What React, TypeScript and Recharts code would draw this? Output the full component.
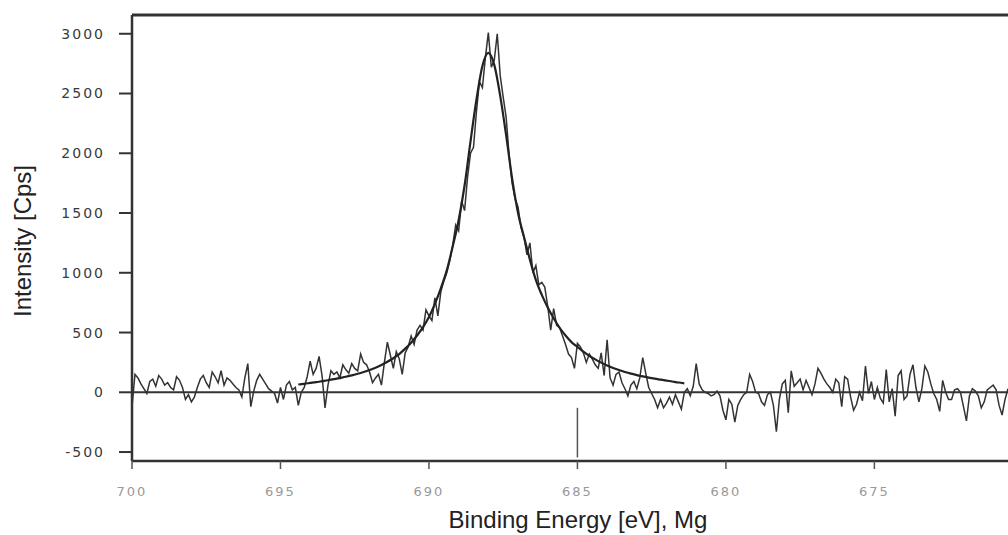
import { LineChart, Line, XAxis, YAxis, ReferenceLine } from 'recharts'

// measured spectrum, 0.1 eV steps from 700 eV downwards
const scanStart = 700
const scanStep = 0.1
const scanCounts = [
  -120, 150, 120, 70, 30, -10, 90, 110, 50, 140,
  110, 60, 80, 40, 20, 130, 100, 40, -60, -20,
  -80, -40, 40, 110, 140, 80, 40, 170, 130, 80,
  180, 60, 120, 100, 70, 40, 20, -40, 120, 240,
  -120, 10, 100, 150, 110, 70, 30, 10, -10, -90,
  40, -60, 60, 90, 20, 40, -110, 0, 40, 130,
  260, 150, 200, 300, 140, -130, 60, 180, 150, 170,
  120, 230, 190, 160, 240, 200, 180, 320, 250, 230,
  170, 80, 120, 150, 60, 250, 420, 310, 200, 340,
  280, 150, 330, 380, 470, 400, 520, 560, 520, 690,
  640, 600, 790, 640, 840, 930, 1000, 1100, 1230, 1400,
  1350, 1600, 1520, 1800, 2000, 2050, 2350, 2600, 2550, 2800,
  3010, 2720, 2780, 3000, 2650, 2470, 2300, 1980, 1750, 1620,
  1550, 1380, 1300, 1150, 1250, 1000, 1060, 900, 920, 880,
  720, 520, 700, 560, 540, 470, 400, 320, 290, 200,
  410, 380, 330, 250, 320, 280, 230, 200, 330, 140,
  440, 120, 60, 150, 170, 80, 30, -30, 60, 90,
  30, 120, 290, 160, 40, -10, -60, -130, -60, -130,
  -90, -40, -100, -20, -80, -140, 0, 30, -30, 50,
  240, 70, 20, 0, -10, -30, -20, 10, -30, -150,
  -230, -60, -100, -250, -110, -60, -20, 0, 150, 90,
  0, -10, -80, -110, -20, 0, -110, -330, -60, 70,
  100, -170, 180, 50, 80, 110, 20, 100, 40, -20,
  70, 200, 160, 110, 70, 40, 0, 110, 80, -120,
  130, 110, -40, -150, -100, 0, -70, 220, -10, 90,
  -60, 40, -50, -90, 190, -80, 30, -200, 140, 180,
  -60, -30, 150, 230, 40, -80, 30, 220, 170, 70,
  -10, -60, -160, 100, 0, -60, -60, 20, 30, 0,
  -120, -240, -30, 30, 10, -30, -130, -80, 20, 40,
  60, 20, -110, -190, -60, 30,
]

// fitted peak, 0.2 eV steps from 694.4 eV
const fitStart = 694.4
const fitStep = 0.2
const fitCounts = [
  65, 71, 78, 85, 93, 101, 110, 120, 130, 142, 155, 170, 187, 205, 228, 255,
  285, 320, 365, 415, 475, 545, 630, 740, 870, 1020, 1220, 1440, 1730, 2100, 2450, 2730,
  2840,
  2740, 2480, 2150, 1790, 1500, 1300, 1110, 940, 815, 710, 620, 540, 475, 420, 380, 340,
  305, 275, 248, 224, 204, 186, 170, 156, 144, 133, 123, 114, 106, 98, 90, 82, 75,
]

const xTicks = [700, 695, 690, 685, 680, 675]
const yTicks = [-500, 0, 500, 1000, 1500, 2000, 2500, 3000]
const xDomain = [670.5, 700]
const yDomain = [-575, 3157]
const markerEnergy = 685
const markerRange = [-130, -545]

const scanData = scanCounts.map((c, i) => ({ e: +(scanStart - i * scanStep).toFixed(2), c }))
const fitData = fitCounts.map((c, i) => ({ e: +(fitStart - i * fitStep).toFixed(2), c }))

const font = 'DejaVu Sans, Verdana, sans-serif'
const labelFont = 'Liberation Sans, Arial, sans-serif'

export default function App() {
  return (
    <div style={{ position: 'absolute', left: 0, top: 0, background: '#fff' }}>
      <LineChart width={1008} height={535} margin={{ top: 15, right: 0, left: 0, bottom: 0 }}>
        <XAxis
          dataKey="e"
          type="number"
          domain={xDomain}
          reversed
          allowDataOverflow
          ticks={xTicks}
          tickSize={8}
          tickMargin={18}
          height={74}
          axisLine={{ stroke: '#333', strokeWidth: 2.5 }}
          tickLine={{ stroke: '#555', strokeWidth: 1.5 }}
          tick={{ fontSize: 13, fill: '#999', fontFamily: font, letterSpacing: 2 }}
          label={{
            content: () => (
              <text x={578} y={528} textAnchor="middle" fontSize={24} fill="#222" fontFamily={labelFont}>
                Binding Energy [eV], Mg
              </text>
            ),
          }}
        />
        <YAxis
          type="number"
          domain={yDomain}
          allowDataOverflow
          ticks={yTicks}
          width={132}
          tickSize={13}
          tickMargin={14}
          axisLine={{ stroke: '#333', strokeWidth: 2.5 }}
          tickLine={{ stroke: '#333', strokeWidth: 2 }}
          tick={{ fontSize: 14, fill: '#3a3a3a', fontFamily: font, letterSpacing: 2 }}
          label={{
            content: () => (
              <text
                x={0}
                y={0}
                transform="translate(31, 241) rotate(-90)"
                textAnchor="middle"
                fontSize={24}
                fill="#222"
                fontFamily={labelFont}
              >
                Intensity [Cps]
              </text>
            ),
          }}
        />
        <ReferenceLine y={yDomain[1]} stroke="#333" strokeWidth={3} />
        <ReferenceLine y={0} stroke="#333" strokeWidth={2} />
        <ReferenceLine
          segment={[
            { x: markerEnergy, y: markerRange[0] },
            { x: markerEnergy, y: markerRange[1] },
          ]}
          stroke="#555"
          strokeWidth={1.5}
        />
        <Line
          data={scanData}
          dataKey="c"
          type="linear"
          stroke="#333"
          strokeWidth={1.5}
          dot={false}
          isAnimationActive={false}
        />
        <Line
          data={fitData}
          dataKey="c"
          type="monotone"
          stroke="#222"
          strokeWidth={2.2}
          dot={false}
          isAnimationActive={false}
        />
      </LineChart>
    </div>
  )
}
